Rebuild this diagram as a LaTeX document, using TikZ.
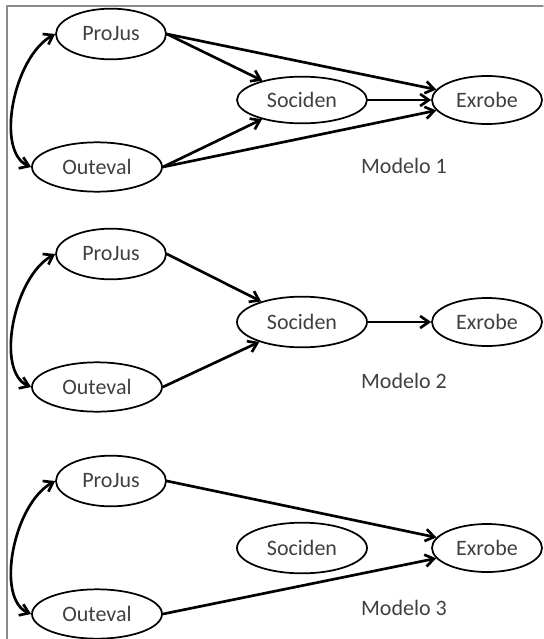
\documentclass[tikz,border=0pt]{standalone}
\usepackage{fontspec}
\setmainfont{Carlito}
\usetikzlibrary{shapes.geometric,arrows.meta}
\definecolor{txtgray}{HTML}{404040}
\definecolor{framegray}{HTML}{8A8A8A}
\tikzset{
	var/.style={ellipse, draw, line width=1.3pt, inner sep=0pt, text=txtgray, font=\fontsize{16.5}{18}\selectfont},
	small/.style={var, minimum width=82.5pt, minimum height=38pt},
	big/.style={var, minimum width=97.5pt, minimum height=37pt},
	lab/.style={text=txtgray, font=\fontsize{16.5}{18}\selectfont},
	path/.style={line width=2pt, -{Straight Barb[length=6.5pt,width=9pt,line width=2pt]}},
	cov/.style={line width=2pt, {Straight Barb[length=6.5pt,width=9pt,line width=2pt]}-{Straight Barb[length=6.5pt,width=9pt,line width=2pt]}}
}
\begin{document}
\begin{tikzpicture}[x=0.75pt,y=-0.75pt,line join=round, line cap=round]
	\useasboundingbox (0,0) rectangle (543,639);
	\draw[framegray, line width=1.1pt] (543,6) -- (7,6) -- (7,639);
	% Modelo 1
	\node[small] (pjA) at (111,34) {ProJus};
	\node[big] (ovA) at (97,167) {Outeval};
	\node[big, minimum height=35pt] (scA) at (302,100) {Sociden};
	\node[small, minimum height=36pt] (exA) at (487,100) {Exrobe};
	\node[lab] (mA) at (404,166) {Modelo 1};
	\draw[cov] (pjA.west) .. controls +(-42,23) and +(-36,-15) .. (ovA.west);
	\draw[path] (pjA.east) -- (scA);
	\draw[path] (pjA.east) -- (exA);
	\draw[path] (scA) -- (exA);
	\draw[path] (ovA.east) -- (scA);
	\draw[path] (ovA.east) -- (exA);
	% Modelo 2
	\node[small] (pjB) at (111,254) {ProJus};
	\node[big] (ovB) at (97,387) {Outeval};
	\node[big, minimum height=38pt] (scB) at (302,322) {Sociden};
	\node[small, minimum height=36pt] (exB) at (487,322) {Exrobe};
	\node[lab] (mB) at (404,381) {Modelo 2};
	\draw[cov] (pjB.west) .. controls +(-42,23) and +(-36,-15) .. (ovB.west);
	\draw[path] (pjB.east) -- (scB);
	\draw[path] (scB) -- (exB);
	\draw[path] (ovB.east) -- (scB);
	% Modelo 3
	\node[small] (pjC) at (111,481) {ProJus};
	\node[big] (ovC) at (97,614) {Outeval};
	\node[big, minimum height=38pt] (scC) at (302,548) {Sociden};
	\node[small, minimum height=36pt] (exC) at (487,548) {Exrobe};
	\node[lab] (mC) at (404,608) {Modelo 3};
	\draw[cov] (pjC.west) .. controls +(-42,23) and +(-36,-15) .. (ovC.west);
	\draw[path] (pjC.east) -- (exC);
	\draw[path] (ovC.east) -- (exC);
\end{tikzpicture}
\end{document}
